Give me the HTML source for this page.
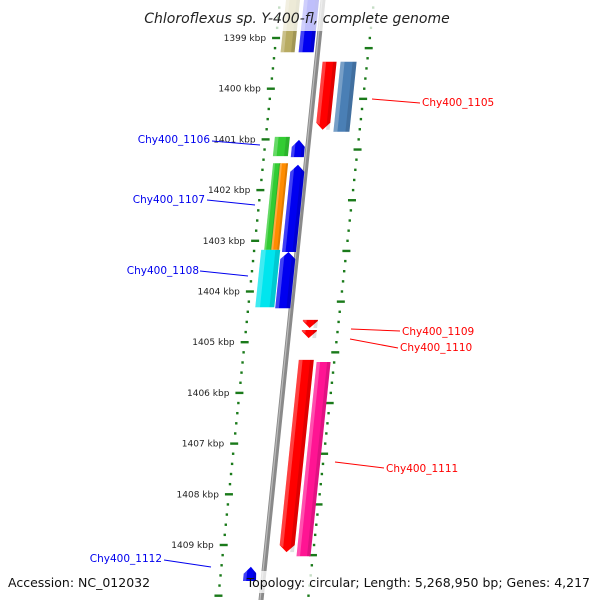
<!DOCTYPE html>
<html><head><meta charset="utf-8"><style>
body{margin:0;background:#fff}
svg{display:block;font-family:"DejaVu Sans","Liberation Sans",sans-serif}
</style></head><body>
<svg id="c" width="600" height="600" viewBox="0 0 600 600"></svg>
<script>
const tickKbp=[1399,1400,1401,1402,1403,1404,1405,1406,1407,1408,1409];
const featStart=[1398.06,1398.06,1399.47,1399.47,1400.95,1401.01,1401.47,1401.47,1401.50,1403.18,1403.22,1404.56,1404.76,1405.35,1405.39,1409.43];
const featEnd=[1399.28,1399.28,1400.81,1400.85,1401.33,1401.35,1403.18,1403.18,1403.22,1404.31,1404.33,1404.72,1404.92,1409.14,1409.22,1409.71];
const featStrand=[0,1,-1,0,0,1,0,0,1,0,1,-1,-1,-1,0,1];
const featOff0=[-37,-19,6,24,-34,-16,-33,-26,-15,-36,-16,13,13,13,31,-20];
const featOff1=[-23,-4,20,40,-19,-3,-25,-18,-1,-17,-1,28,28,28,45,-7];
const featColor=['#b8ab62','#0000f0','#ff0000','#4a7fb5','#33cc33','#0000f0','#33cc33','#ff8c00','#0000f0','#00e5ee','#0000f0','#ff0000','#ff0000','#ff0000','#ff1493','#0000f0'];
const labelText=['Chy400_1105','Chy400_1106','Chy400_1107','Chy400_1108','Chy400_1109','Chy400_1110','Chy400_1111','Chy400_1112'];
const labelSide=[1,-1,-1,-1,1,1,1,-1];
const labelLine=[[372,99,420,103],[212,141,260,145],[207,200,255,205],[200,271,248,276],[351,329,400,331],[350,339,398,348],[335,462,384,468],[164,560,211,567]];
const labelPos=[[422,106],[210,143],[205,203],[199,274],[402,335],[400,351],[386,472],[162,562]];

const svg=document.getElementById('c');
const NS='http://www.w3.org/2000/svg';
function mk(t,a,p){const e=document.createElementNS(NS,t);for(const k in a)e.setAttribute(k,a[k]);(p||svg).appendChild(e);return e;}
const yOf=k=>38+(k-1399)*50.7;
const bx=y=>323-0.1033*y;

// backbone
const bb=mk('line',{x1:bx(-5),y1:-5,x2:bx(605),y2:605,stroke:'#8a8a8a','stroke-width':5});

mk('line',{x1:bx(-5)-1,y1:-5,x2:bx(605)-1,y2:605,stroke:'#bbb','stroke-width':1.2});

// rings
const ringL=mk('g',{fill:'#1a7a1a'});
const ringR=mk('g',{fill:'#1a7a1a'});
for(let k=1398.2;k<=1410.4;k+=0.2){
  const y=yOf(k);const kk=Math.round(k*5)/5;
  const isTick=Math.abs(kk-Math.round(kk))<0.01;
  const xl=bx(y)-43;
  if(isTick){mk('rect',{x:xl-4,y:y-1.2,width:8,height:2.4},ringL);}
  else mk('rect',{x:xl-1.2,y:y-1.2,width:2.4,height:2.4},ringL);
  const xr=bx(y)+51-(y/600)*4;
  const isTickR=Math.abs((kk-0.2)-Math.round(kk-0.2))<0.01;
  if(isTickR)mk('rect',{x:xr-4,y:y-1.2,width:8,height:2.4},ringR);
  else mk('rect',{x:xr-1.2,y:y-1.2,width:2.4,height:2.4},ringR);
}
tickKbp.forEach(k=>{
  const y=yOf(k);
  const t=mk('text',{x:bx(y)-53,y:y+3,'font-size':9,fill:'#222','text-anchor':'end'});
  t.textContent=k+' kbp';
  
});

// features
featStart.forEach((s,i)=>{
  const y0=yOf(s),y1=yOf(featEnd[i]);
  const o0=featOff0[i],o1=featOff1[i],om=(o0+o1)/2;
  const P=(o,y)=>(bx(y)+o).toFixed(1)+','+y.toFixed(1);
  let pts;const h=7;
  if(featStrand[i]===1)pts=[P(o0,y0+h),P(om,y0),P(o1,y0+h),P(o1,y1),P(o0,y1)];
  else if(featStrand[i]===-1)pts=[P(o0,y0),P(o1,y0),P(o1,y1-h),P(om,y1),P(o0,y1-h)];
  else pts=[P(o0,y0),P(o1,y0),P(o1,y1),P(o0,y1)];
  const g=mk('polygon',{points:pts.join(' '),fill:featColor[i]});
  
  const w=(o1-o0)*0.25;
  mk('polygon',{points:[P(o0,y0+(featStrand[i]===1?h-2:0)),P(o0+w,y0+(featStrand[i]===1?h-4:0)),P(o0+w,y1-(featStrand[i]===-1?h-2:0)),P(o0,y1-(featStrand[i]===-1?h:0))].join(' '),fill:'#fff',opacity:0.25});
  mk('polygon',{points:[P(o1-w,y0+(featStrand[i]===1?h-3:0)),P(o1,y0+(featStrand[i]===1?h:0)),P(o1,y1),P(o1-w,y1)].join(' '),fill:'#000',opacity:0.12});
});

// labels
labelText.forEach((t,i)=>{
  const c=labelSide[i]>0?'#ff0000':'#0000ee';const L=labelLine[i];
  mk('line',{x1:L[0],y1:L[1],x2:L[2],y2:L[3],stroke:c,'stroke-width':1});
  const e=mk('text',{x:labelPos[i][0],y:labelPos[i][1],'font-size':10.5,fill:c,'text-anchor':labelSide[i]>0?'start':'end'});
  e.textContent=t;
  
});

// title & footer
mk('rect',{x:140,y:0,width:320,height:31,fill:'#fff',opacity:0.75});
const ti=mk('text',{x:297,y:23,'font-size':14,'font-style':'italic',fill:'#222','text-anchor':'middle'});
ti.textContent='Chloroflexus sp. Y-400-fl, complete genome';

mk('rect',{x:256,y:571,width:340,height:22,fill:'#fff',opacity:0.75});
const a=mk('text',{x:8,y:587,'font-size':12.5,fill:'#111'});
a.textContent='Accession: NC_012032';

const tp=mk('text',{x:590,y:587,'font-size':12.5,fill:'#111','text-anchor':'end'});
tp.textContent='Topology: circular; Length: 5,268,950 bp; Genes: 4,217';

</script>
</body></html>
